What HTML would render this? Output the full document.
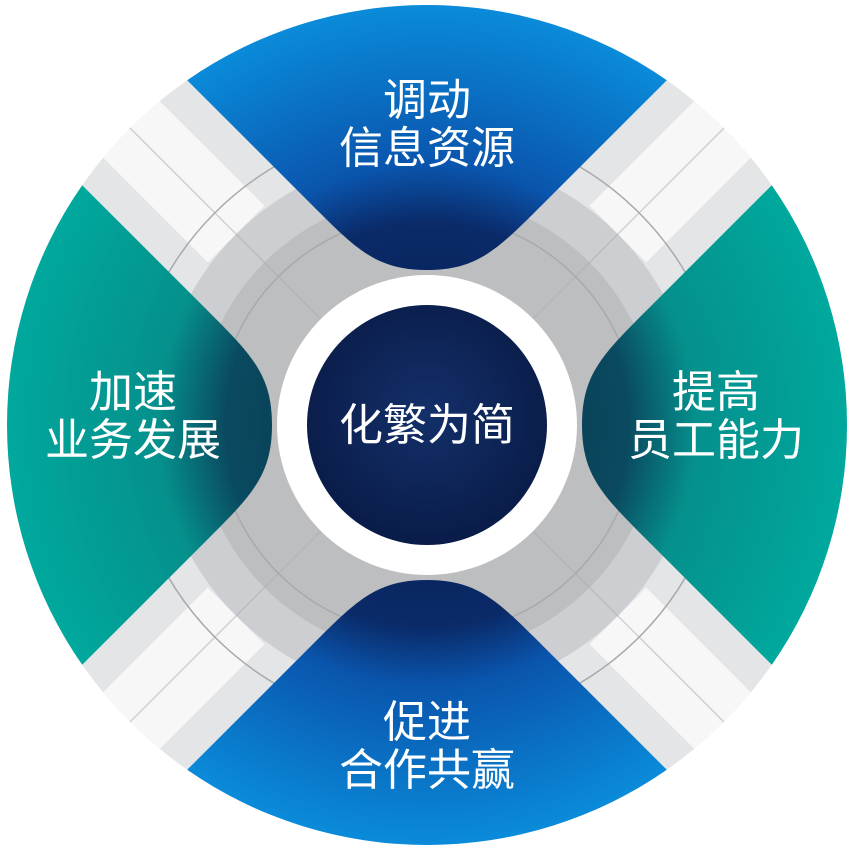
<!DOCTYPE html>
<html><head><meta charset="utf-8"><style>
html,body{margin:0;padding:0;background:#fff;width:853px;height:853px;overflow:hidden}
svg{display:block}
text{font-family:"Liberation Sans","Noto Sans CJK SC",sans-serif;fill:#fff;text-anchor:middle}
</style></head><body>
<svg width="853" height="853" viewBox="0 0 853 853">
<defs>
<radialGradient id="gb" gradientUnits="userSpaceOnUse" cx="0" cy="0" r="420">
<stop offset="0" stop-color="#061a4a"/><stop offset="0.48" stop-color="#0a2a68"/>
<stop offset="0.62" stop-color="#0a55ad"/><stop offset="1" stop-color="#0a8bd9"/></radialGradient>
<radialGradient id="gt" gradientUnits="userSpaceOnUse" cx="0" cy="0" r="420">
<stop offset="0" stop-color="#062c45"/><stop offset="0.48" stop-color="#0a4a60"/>
<stop offset="0.64" stop-color="#05908c"/><stop offset="1" stop-color="#00a89d"/></radialGradient>
<radialGradient id="gc" cx="0.5" cy="0.45" r="0.6">
<stop offset="0" stop-color="#13306a"/><stop offset="1" stop-color="#091a45"/></radialGradient>
<clipPath id="cc"><circle cx="0" cy="0" r="420"/></clipPath>
<path id="w" d="M-239.8,-344.8 L-115,-220 C-70,-175 -50,-155 0,-155 C50,-155 70,-175 115,-220 L239.8,-344.8 A420,420 0 0 0 -239.8,-344.8 Z"/>
</defs>
<g transform="translate(427,425)">
<g clip-path="url(#cc)">
<circle r="420" fill="#e4e5e6"/>
<g fill="#f7f7f7">
<rect x="-40" y="-420" width="80" height="150" transform="rotate(45)"/>
<rect x="-40" y="270" width="80" height="150" transform="rotate(45)"/>
<rect x="-40" y="-420" width="80" height="150" transform="rotate(-45)"/>
<rect x="-40" y="270" width="80" height="150" transform="rotate(-45)"/>
</g>
<circle r="270" fill="#c9cacc" opacity="0.85"/>
<circle r="230" fill="#b9babc" opacity="0.8"/>
<g stroke="#a8a9ab" stroke-width="1.5" fill="none">
<circle r="300"/><circle r="210"/>
<line x1="-420" y1="-420" x2="420" y2="420" stroke-opacity="0.5"/>
<line x1="420" y1="-420" x2="-420" y2="420" stroke-opacity="0.5"/>
</g>
</g>
<use href="#w" fill="url(#gb)"/>
<use href="#w" fill="url(#gb)" transform="rotate(180)"/>
<use href="#w" fill="url(#gt)" transform="rotate(90)"/>
<use href="#w" fill="url(#gt)" transform="rotate(-90)"/>
<circle r="150" fill="#fff"/>
<circle r="120" fill="url(#gc)"/>
</g>
<text x="427" y="440" font-size="44">化繁为简</text>
<text x="427" y="115" font-size="44">调动</text>
<text x="427" y="163" font-size="44">信息资源</text>
<text x="133" y="407" font-size="44">加速</text>
<text x="133" y="455" font-size="44">业务发展</text>
<text x="716" y="407" font-size="44">提高</text>
<text x="716" y="455" font-size="44">员工能力</text>
<text x="427" y="737" font-size="44">促进</text>
<text x="427" y="785" font-size="44">合作共赢</text>
</svg>
</body></html>
